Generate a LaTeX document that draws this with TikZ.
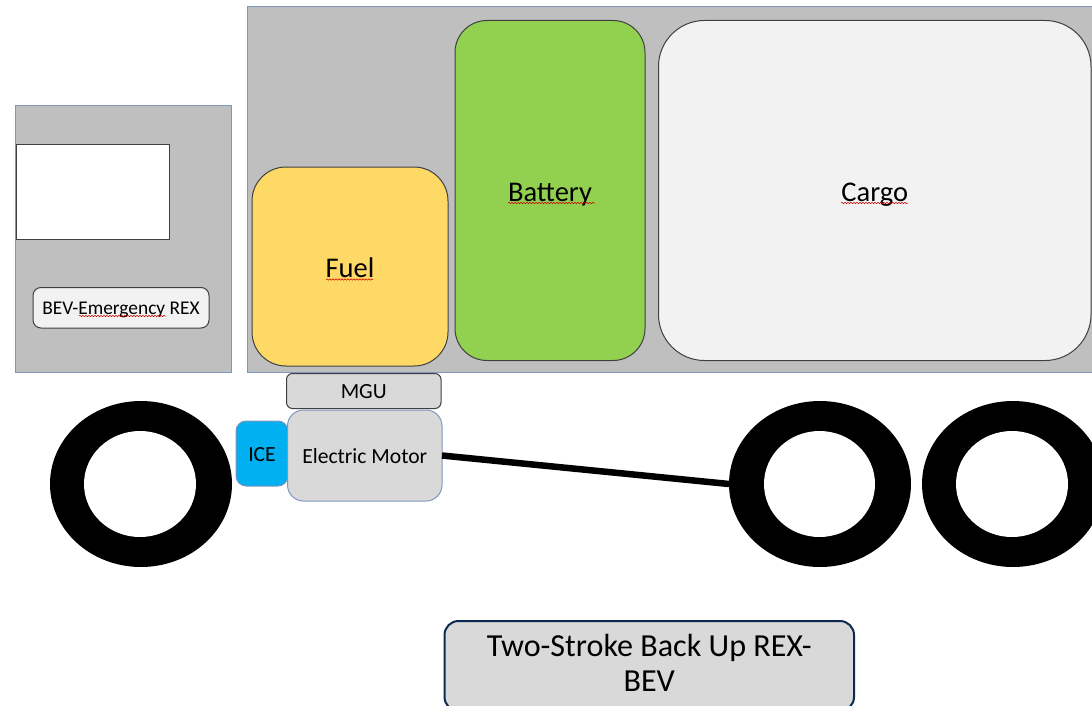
\documentclass[tikz,border=0pt]{standalone}
\usepackage{fontspec}
\setmainfont{Carlito}
\usetikzlibrary{shapes.geometric,decorations.pathmorphing}
\definecolor{panelgray}{HTML}{BFBFBF}
\definecolor{paleblue}{HTML}{7F97BF}
\definecolor{edgedark}{HTML}{404040}
\definecolor{fuelcol}{HTML}{FFD966}
\definecolor{batcol}{HTML}{92D050}
\definecolor{cargocol}{HTML}{F2F2F2}
\definecolor{motorcol}{HTML}{D9D9D9}
\definecolor{icecol}{HTML}{00B0F0}
\definecolor{navy}{HTML}{0B2A52}
\newcommand{\lowered}[2]{\raisebox{-#1pt}[0pt][0pt]{#2}}
\tikzset{
  wh/.style 2 args={minimum width=#1pt,minimum height=#2pt},
  panel/.style={rectangle,draw=paleblue,fill=panelgray,line width=1pt,inner sep=0pt,outer sep=0pt},
  tank/.style={rectangle,draw=edgedark,line width=1pt,inner sep=0pt,outer sep=0pt,font=\fontsize{28.5}{30}\selectfont},
  small/.style={rectangle,line width=1pt,inner sep=0pt,outer sep=0pt,font=\fontsize{21.6}{24}\selectfont},
  tyre/.style={ellipse,fill=black,inner sep=0pt,outer sep=0pt},
  hub/.style={ellipse,fill=white,inner sep=0pt,outer sep=0pt},
  squiggle/.style={draw=red!80!black,line width=.5pt,decorate,decoration={snake,amplitude=.7pt,segment length=3pt}}
}
\begin{document}
\begin{tikzpicture}[x=1pt,y=-1pt]
\useasboundingbox (0,0) rectangle (1092,706);
\node[panel,wh={216}{266.5}] (cab) at (123.5,238.75) {};
\node[panel,wh={860}{365}] (body) at (677.5,189.5) {};
\node[rectangle,draw=edgedark,fill=white,line width=1pt,inner sep=0pt,wh={153}{94.5}] (window) at (93,191.75) {};
\node[small,draw=edgedark,fill=cargocol,rounded corners=8pt,wh={176}{40.5},font=\fontsize{19.4}{22}\selectfont] (bev) at (121,307.75) {\lowered{7}{BEV-Emergency REX}};
\node[tank,fill=fuelcol,rounded corners=34pt,wh={196}{199}] (fuel) at (350,266.5) {\lowered{10.5}{Fuel}};
\node[tank,fill=batcol,rounded corners=32pt,wh={190}{340}] (battery) at (550,190.5) {\lowered{10.5}{Battery}};
\node[tank,fill=cargocol,rounded corners=46pt,wh={432.5}{340}] (cargo) at (874.75,190.5) {\lowered{10.5}{Cargo}};
\node[small,draw=edgedark,fill=motorcol,rounded corners=6pt,wh={154.5}{35}] (mgu) at (363.75,391) {\lowered{7.5}{MGU}};
\node[tyre,wh={182}{166}] (wheelA) at (141,484) {};
\node[hub,wh={112}{106}] (hubA) at (140,484) {};
\node[tyre,wh={182}{166}] (wheelB) at (820,484) {};
\node[hub,wh={111}{106}] (hubB) at (819.5,484) {};
\node[tyre,wh={182}{166}] (wheelC) at (1013,484) {};
\node[hub,wh={112}{106}] (hubC) at (1012,484) {};
\node[small,draw=paleblue,fill=icecol,rounded corners=10pt,wh={52}{65}] (ice) at (262,453.5) {\lowered{8}{ICE}};
\node[small,draw=paleblue,fill=motorcol,rounded corners=16pt,wh={154.5}{91}] (motor) at (364.75,455.5) {\lowered{7.5}{Electric Motor}};
\draw[line width=6.5pt] (motor.east) -- (wheelB.west);
\node[rectangle,draw=navy,fill=motorcol,line width=2pt,rounded corners=14pt,inner sep=0pt,wh={409.5}{90},font=\fontsize{32.1}{35}\selectfont] (title) at (649.25,666) {\lowered{-9.5}{\parbox[t]{400pt}{\centering Two-Stroke Back Up REX-\\BEV}}};
\draw[squiggle] (326,279.5) -- (373,279.5);
\draw[squiggle] (508,203) -- (595,203);
\draw[squiggle] (841,203) -- (908,203);
\draw[squiggle] (79,316) -- (166,316);
\end{tikzpicture}
\end{document}
